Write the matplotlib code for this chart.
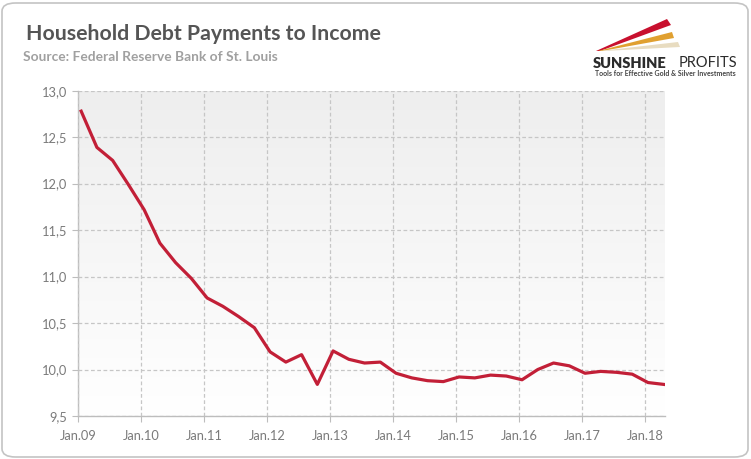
import matplotlib
matplotlib.use("Agg")
import matplotlib.pyplot as plt
import numpy as np
from matplotlib.patches import FancyBboxPatch, Polygon

# ---- data (quarterly, 2009Q1 .. 2018Q2) ----
quarters = [f"{y}Q{q}" for y in range(2009, 2019) for q in range(1, 5)][:38]
values = [12.78, 12.39, 12.25, 11.99, 11.72, 11.36, 11.15, 10.98,
          10.77, 10.68, 10.57, 10.45, 10.19, 10.08, 10.16, 9.84,
          10.20, 10.11, 10.07, 10.08, 9.96, 9.91, 9.88, 9.87,
          9.92, 9.91, 9.94, 9.93, 9.89, 10.00, 10.07, 10.04,
          9.96, 9.98, 9.97, 9.95, 9.86, 9.84]
tick_years = list(range(2009, 2019))
tick_labels = [f"Jan.{y % 100:02d}" for y in tick_years]
y_ticks = [9.5, 10.0, 10.5, 11.0, 11.5, 12.0, 12.5, 13.0]
y_labels = [f"{v:.1f}".replace(".", ",") for v in y_ticks]

title = "Household Debt Payments to Income"
source = "Source: Federal Reserve Bank of St. Louis"

# x positions from quarter labels
xpos = [int(q[:4]) + (int(q[-1]) - 1) * 0.25 + 0.05 for q in quarters]

plt.rcParams['font.family'] = ['Lato', 'DejaVu Sans']
W, H = 751, 459
fig = plt.figure(figsize=(W / 100, H / 100), dpi=100)
fig.patch.set_facecolor("white")

# rounded border
border = FancyBboxPatch((2 / W, 2 / H), (W - 5) / W, (H - 5) / H,
                        boxstyle="round,pad=0,rounding_size=0.018",
                        transform=fig.transFigure, facecolor="none",
                        edgecolor="#c4c4c4", linewidth=1.2)
fig.patches.append(border)

ax = fig.add_axes([78 / W, 1 - 416 / H, (665 - 78) / W, (416 - 90.7) / H])
ax.set_xlim(2009, 2018.32)
ax.set_ylim(9.5, 13.0)

# gradient background
grad = np.linspace(0, 1, 256).reshape(-1, 1)
ax.imshow(grad, extent=[2009, 2018.32, 9.5, 13.0], aspect="auto",
          cmap=matplotlib.colors.LinearSegmentedColormap.from_list("g", ["#ffffff", "#eeeeee"]),
          origin="lower", zorder=0)
ax.set_facecolor("white")

ax.plot(xpos, values, color="#c21f37", linewidth=2.3, solid_joinstyle="round", zorder=3)

ax.set_xticks(tick_years)
ax.set_xticklabels(tick_labels)
ax.set_yticks(y_ticks)
ax.set_yticklabels(y_labels)
ax.grid(True, color="#c6c6c6", linestyle=(0, (3, 2)), linewidth=0.9, zorder=1)
ax.set_axisbelow(False)
for s in ["top", "right"]:
    ax.spines[s].set_visible(False)
for s in ["left", "bottom"]:
    ax.spines[s].set_color("#bdbdbd")
    ax.spines[s].set_linewidth(1.0)
ax.tick_params(axis="both", colors="#bdbdbd", labelcolor="#7a7a7a", labelsize=9.3, length=4)
ax.tick_params(axis="x", pad=6)
ax.tick_params(axis="y", pad=4)

# titles
fig.text(26 / W, 1 - 34 / H, title, fontsize=15.3, fontweight="bold", color="#555555",
         va="center", ha="left")
fig.text(23 / W, 1 - 57 / H, source, fontsize=9.9, fontweight="bold", color="#a0a0a0",
         va="center", ha="left")

# logo
lax = fig.add_axes([560 / W, 1 - 90 / H, 191 / W, 90 / H])
lax.set_xlim(560, 751)
lax.set_ylim(90, 0)
lax.axis("off")
streaks = [("#c8102e", [(596, 51), (667, 19), (671, 25), (600, 51)]),
           ("#e0a030", [(598, 51), (672, 32), (674, 38), (602, 51)]),
           ("#e8dcc0", [(600, 51), (678, 42), (680, 47), (604, 51)])]
for c, pts in streaks:
    lax.add_patch(Polygon(pts, closed=True, facecolor=c, edgecolor="none"))
lax.text(593, 63, "SUNSHINE", fontsize=10.5, fontweight="heavy", color="#2b2b2b",
         va="center", ha="left")
lax.text(679, 63, "PROFITS", fontsize=10.5, color="#2b2b2b", va="center", ha="left")
lax.text(595, 73, "Tools for Effective Gold & Silver Investments", fontsize=5.0,
         color="#444444", va="center", ha="left", fontweight="bold")

fig.savefig("out.png", dpi=100)
